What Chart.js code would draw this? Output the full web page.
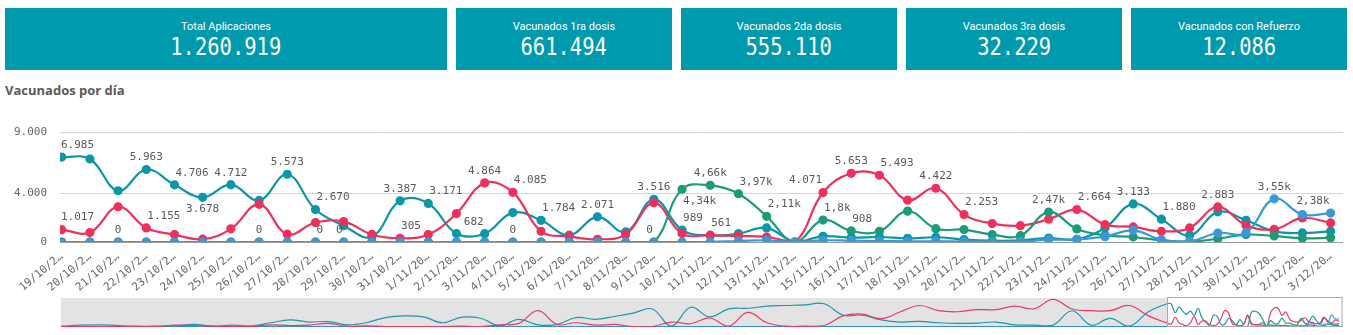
<!DOCTYPE html>
<html>
<head>
<meta charset="utf-8">
<script src="https://cdn.jsdelivr.net/npm/chart.js@4"></script>
<style>
body { margin: 0; width: 1353px; height: 335px; background: #fff; overflow: hidden; position: relative; font-family: Roboto, sans-serif; }
#kpis { position: absolute; left: 5px; top: 8px; display: flex; gap: 9px; }
.kpi { width: 216px; height: 62px; background: #009aae; color: #fff; text-align: center; }
.kpi:first-child { width: 442px; }
.kpi .t { font-size: 11px; line-height: 13px; margin-top: 12px; }
.kpi .v { display: inline-block; font-family: 'DejaVu Sans Mono', monospace; font-size: 25px; line-height: 28px; transform: scaleX(0.82); }
h1 { position: absolute; left: 5px; top: 81px; margin: 0; font: bold 13px 'Open Sans', sans-serif; color: #5a5a5a; }
#main { position: absolute; left: 0; top: 113px; width: 1353px; height: 182px; }
#nav { position: absolute; left: 61px; top: 297px; width: 1282px; height: 30px; }
</style>
</head>
<body>
<div id="kpis"></div>
<h1>Vacunados por día</h1>
<div id="main"><canvas id="chart"></canvas></div>
<div id="nav"><canvas id="navChart"></canvas></div>
<script>
const kpiTitles = ['Total Aplicaciones', 'Vacunados 1ra dosis', 'Vacunados 2da dosis', 'Vacunados 3ra dosis', 'Vacunados con Refuerzo'];
const kpiValues = [1260919, 661494, 555110, 32229, 12086];

const dates = ['19/10/2021', '20/10/2021', '21/10/2021', '22/10/2021', '23/10/2021', '24/10/2021', '25/10/2021',
    '26/10/2021', '27/10/2021', '28/10/2021', '29/10/2021', '30/10/2021', '31/10/2021', '1/11/2021', '2/11/2021',
    '3/11/2021', '4/11/2021', '5/11/2021', '6/11/2021', '7/11/2021', '8/11/2021', '9/11/2021', '10/11/2021',
    '11/11/2021', '12/11/2021', '13/11/2021', '14/11/2021', '15/11/2021', '16/11/2021', '17/11/2021', '18/11/2021',
    '19/11/2021', '20/11/2021', '21/11/2021', '22/11/2021', '23/11/2021', '24/11/2021', '25/11/2021', '26/11/2021',
    '27/11/2021', '28/11/2021', '29/11/2021', '30/11/2021', '1/12/2021', '2/12/2021', '3/12/2021'];

// daily values, one per date
const dosis1 = [6985, 6830, 4215, 5963, 4706, 3678, 4712, 3420, 5573, 2670, 1340, 430, 3387, 3171, 700, 682,
    2420, 1784, 560, 2071, 830, 3516, 989, 540, 690, 1160, 0, 470, 360, 410, 300, 390, 200, 110, 130, 330, 220,
    1150, 3133, 1880, 550, 2480, 1790, 880, 745, 880];
const dosis2 = [1017, 780, 2900, 1155, 610, 230, 1080, 3100, 640, 1600, 1680, 620, 305, 610, 2340, 4864,
    4085, 880, 460, 220, 610, 3220, 690, 561, 500, 410, 0, 4071, 5653, 5493, 3440, 4422, 2253, 1515, 1340, 1870,
    2664, 1430, 1240, 880, 1160, 2883, 1380, 1050, 1980, 1570];
const dosis3 = [0, 0, 0, 0, 0, 0, 0, 0, 0, 0, 0, 0, 0, 0, 0, 0, 0, 0, 0, 0, 0, 0, 4340, 4660, 3970, 2110, 0,
    1800, 908, 880, 2540, 1100, 1020, 610, 520, 2470, 1075, 550, 410, 136, 30, 273, 610, 500, 300, 360];
const refuerzo = [0, 0, 0, 0, 0, 0, 0, 0, 0, 0, 0, 0, 0, 0, 0, 0, 0, 0, 0, 0, 0, 0, 0, 0, 80, 140, 0, 140,
    110, 80, 60, 60, 40, 30, 30, 190, 218, 440, 960, 190, 55, 740, 770, 3550, 2260, 2380];

const yTicks = [0, 4000, 9000];

// which points carry a value label, and on which side of the point
const marks1 = {0: 'c', 3: 'c', 4: 'r', 5: 'b', 6: 'c', 8: 'c', 9: 'r', 12: 'c', 13: 'r', 15: 'l', 17: 'r', 19: 'c', 21: 'c', 22: 'r', 38: 'c', 39: 'r'};
const marks2 = {0: 'c', 3: 'r', 12: 'r', 15: 'c', 16: 'r', 23: 'r', 27: 'l', 28: 'c', 29: 'r', 31: 'c', 32: 'r', 36: 'r', 41: 'c'};
const marks3 = {9: 'r', 21: 'l', 22: 'br', 23: 'c', 24: 'r', 25: 'r', 27: 'r', 28: 'r', 35: 'c'};
const marks4 = {2: 'c', 7: 'c', 10: 'l', 16: 'c', 43: 'c', 45: 'l'};

// overview strip: earlier period read every 5 days, then the daily values above
const navStep = 5;
const windowStart = 290;
const navDosis1 = [100, 420, 520, 300, 100, 100, 200, 630, 100, 420, 200, 1150, 2000, 1360, 1500, 520, 1150,
    2730, 3255, 2940, 1150, 2835, 2520, 200, 2200, 520, 630, 2730, 2200, 3045, 4100, 5355, 100, 5880, 2940, 5355,
    5565, 6195, 6405, 6615, 6930, 3465, 3465, 2000, 1365, 1575, 1150, 950, 1050, 1365, 520, 400, 420, 4800, 420,
    2500, 100, 4500];
const navDosis2 = [0, 0, 0, 0, 0, 0, 420, 300, 100, 0, 0, 520, 300, 420, 950, 100, 200, 0, 0, 0, 0, 100, 0,
    520, 950, 4830, 630, 1150, 420, 630, 0, 0, 1365, 840, 2600, 100, 4300, 1150, 100, 100, 300, 3255, 3780, 2400,
    4500, 6400, 4830, 4500, 5145, 5145, 6195, 5400, 8300, 5355, 4830, 4830, 6400, 3255];

const monoFont = 'DejaVu Sans Mono';
const fmtFull = v => String(Math.round(v)).replace(/\B(?=(\d{3})+(?!\d))/g, '.');
const fmtK = v => v >= 1000
    ? String(parseFloat((v / 1000).toPrecision(3))).replace('.', ',') + 'k'
    : String(Math.round(v));

const kpiBox = document.getElementById('kpis');
kpiTitles.forEach((t, i) => {
    const d = document.createElement('div');
    d.className = 'kpi';
    d.innerHTML = `<div class="t">${t}</div><div class="v">${fmtFull(kpiValues[i])}</div>`;
    kpiBox.appendChild(d);
});

const series = [
    {label: 'Vacunados 1ra dosis', data: dosis1, color: '#0b97a9', marks: marks1, fmt: fmtFull, order: 4},
    {label: 'Vacunados 2da dosis', data: dosis2, color: '#f0305c', marks: marks2, fmt: fmtFull, order: 3},
    {label: 'Vacunados 3ra dosis', data: dosis3, color: '#1b9c78', marks: marks3, fmt: fmtK, order: 2},
    {label: 'Vacunados con Refuerzo', data: refuerzo, color: '#3a98db', marks: marks4, fmt: fmtK, order: 1},
];

const valueLabels = {
    id: 'valueLabels',
    afterDatasetsDraw(chart) {
        const {ctx, chartArea} = chart;
        ctx.save();
        ctx.font = `11px "${monoFont}"`;
        ctx.fillStyle = '#595959';
        ctx.textBaseline = 'middle';
        ctx.textAlign = 'left';
        series.forEach((s, di) => {
            const meta = chart.getDatasetMeta(di);
            Object.entries(s.marks).forEach(([i, pos]) => {
                const pt = meta.data[i];
                const text = s.fmt(s.data[i]);
                const w = ctx.measureText(text).width;
                const y = pt.y + (pos[0] === 'b' ? 12 : -12);
                let left;
                if (pos.endsWith('r')) left = pt.x + 1;
                else if (pos === 'l') left = pt.x - 1 - w;
                else left = pt.x - w / 2;
                left = Math.max(chartArea.left + 1, Math.min(chartArea.right - w, left));
                ctx.fillText(text, left, y);
            });
        });
        ctx.restore();
    }
};

new Chart(document.getElementById('chart'), {
    type: 'line',
    data: {
        datasets: series.map(s => ({
            label: s.label,
            data: s.data.map((v, i) => ({x: i, y: v})),
            borderColor: s.color,
            backgroundColor: s.color,
            borderWidth: 2.2,
            pointRadius: 3.5,
            pointHoverRadius: 3.5,
            tension: 0.4,
            order: s.order,
        })),
    },
    options: {
        animation: false,
        responsive: true,
        maintainAspectRatio: false,
        layout: {padding: {top: 2, right: 10, left: 0, bottom: 0}},
        plugins: {legend: {display: false}, tooltip: {enabled: false}},
        scales: {
            x: {
                type: 'linear',
                min: -0.06,
                max: 45.44,
                grid: {display: false},
                border: {display: false},
                afterBuildTicks: s => { s.ticks = dates.map((d, i) => ({value: i})); },
                afterFit: s => { s.height = 53; },
                ticks: {
                    autoSkip: false,
                    maxRotation: 40,
                    minRotation: 40,
                    padding: 0,
                    color: '#666',
                    font: {family: monoFont, size: 11},
                    callback: v => dates[v] ? dates[v].slice(0, 7) + '…' : '',
                },
            },
            y: {
                min: 0,
                max: 9000,
                afterBuildTicks: s => { s.ticks = yTicks.map(v => ({value: v})); },
                afterFit: s => { s.width = 60; },
                grid: {
                    color: c => c.tick && c.tick.value === 0 ? '#9a9a9a' : '#d6d6d6',
                    drawTicks: false,
                },
                border: {display: false},
                ticks: {
                    padding: 13,
                    color: '#666',
                    font: {family: monoFont, size: 11},
                    callback: v => fmtFull(v),
                },
            },
        },
    },
    plugins: [valueLabels],
});

// overview strip
const navPoints = (pre, win) => pre.map((v, i) => ({x: i * navStep, y: v}))
    .concat(win.map((v, i) => ({x: windowStart + i, y: v})));

const navFrame = {
    id: 'navFrame',
    beforeDatasetsDraw(chart) {
        const {ctx, chartArea, scales} = chart;
        const xw = scales.x.getPixelForValue(windowStart);
        ctx.save();
        ctx.fillStyle = '#e3e3e3';
        ctx.fillRect(chartArea.left, chartArea.top + 1, xw - chartArea.left, chartArea.bottom - chartArea.top - 1);
        ctx.strokeStyle = '#3a8fc4';
        ctx.lineWidth = 1;
        const y0 = scales.y.getPixelForValue(0);
        ctx.beginPath();
        ctx.moveTo(chartArea.left, y0);
        ctx.lineTo(chartArea.right, y0);
        ctx.stroke();
        ctx.restore();
    },
    afterDatasetsDraw(chart) {
        const {ctx, chartArea, scales} = chart;
        const xw = scales.x.getPixelForValue(windowStart);
        ctx.save();
        ctx.strokeStyle = '#aaaaaa';
        ctx.lineWidth = 1;
        ctx.strokeRect(Math.round(xw) + 0.5, chartArea.top + 0.5, chartArea.right - Math.round(xw) - 1.5, chartArea.bottom - chartArea.top - 1);
        ctx.restore();
    }
};

new Chart(document.getElementById('navChart'), {
    type: 'line',
    data: {
        datasets: [
            {data: navPoints(navDosis1, dosis1), borderColor: '#1b98ae', order: 4},
            {data: navPoints(navDosis2, dosis2), borderColor: '#ec3a63', order: 3},
            {data: navPoints([], dosis3), borderColor: '#27a083', order: 2},
            {data: navPoints([], refuerzo), borderColor: '#4a9fdc', order: 1},
        ].map(d => ({...d, borderWidth: 1.2, pointRadius: 0, tension: 0.4})),
    },
    options: {
        animation: false,
        responsive: true,
        maintainAspectRatio: false,
        layout: {padding: 0},
        plugins: {legend: {display: false}, tooltip: {enabled: false}},
        scales: {
            x: {type: 'linear', display: false, min: 0, max: windowStart + dates.length},
            y: {display: false, min: -150, max: 9000},
        },
    },
    plugins: [navFrame],
});
</script>
</body>
</html>
